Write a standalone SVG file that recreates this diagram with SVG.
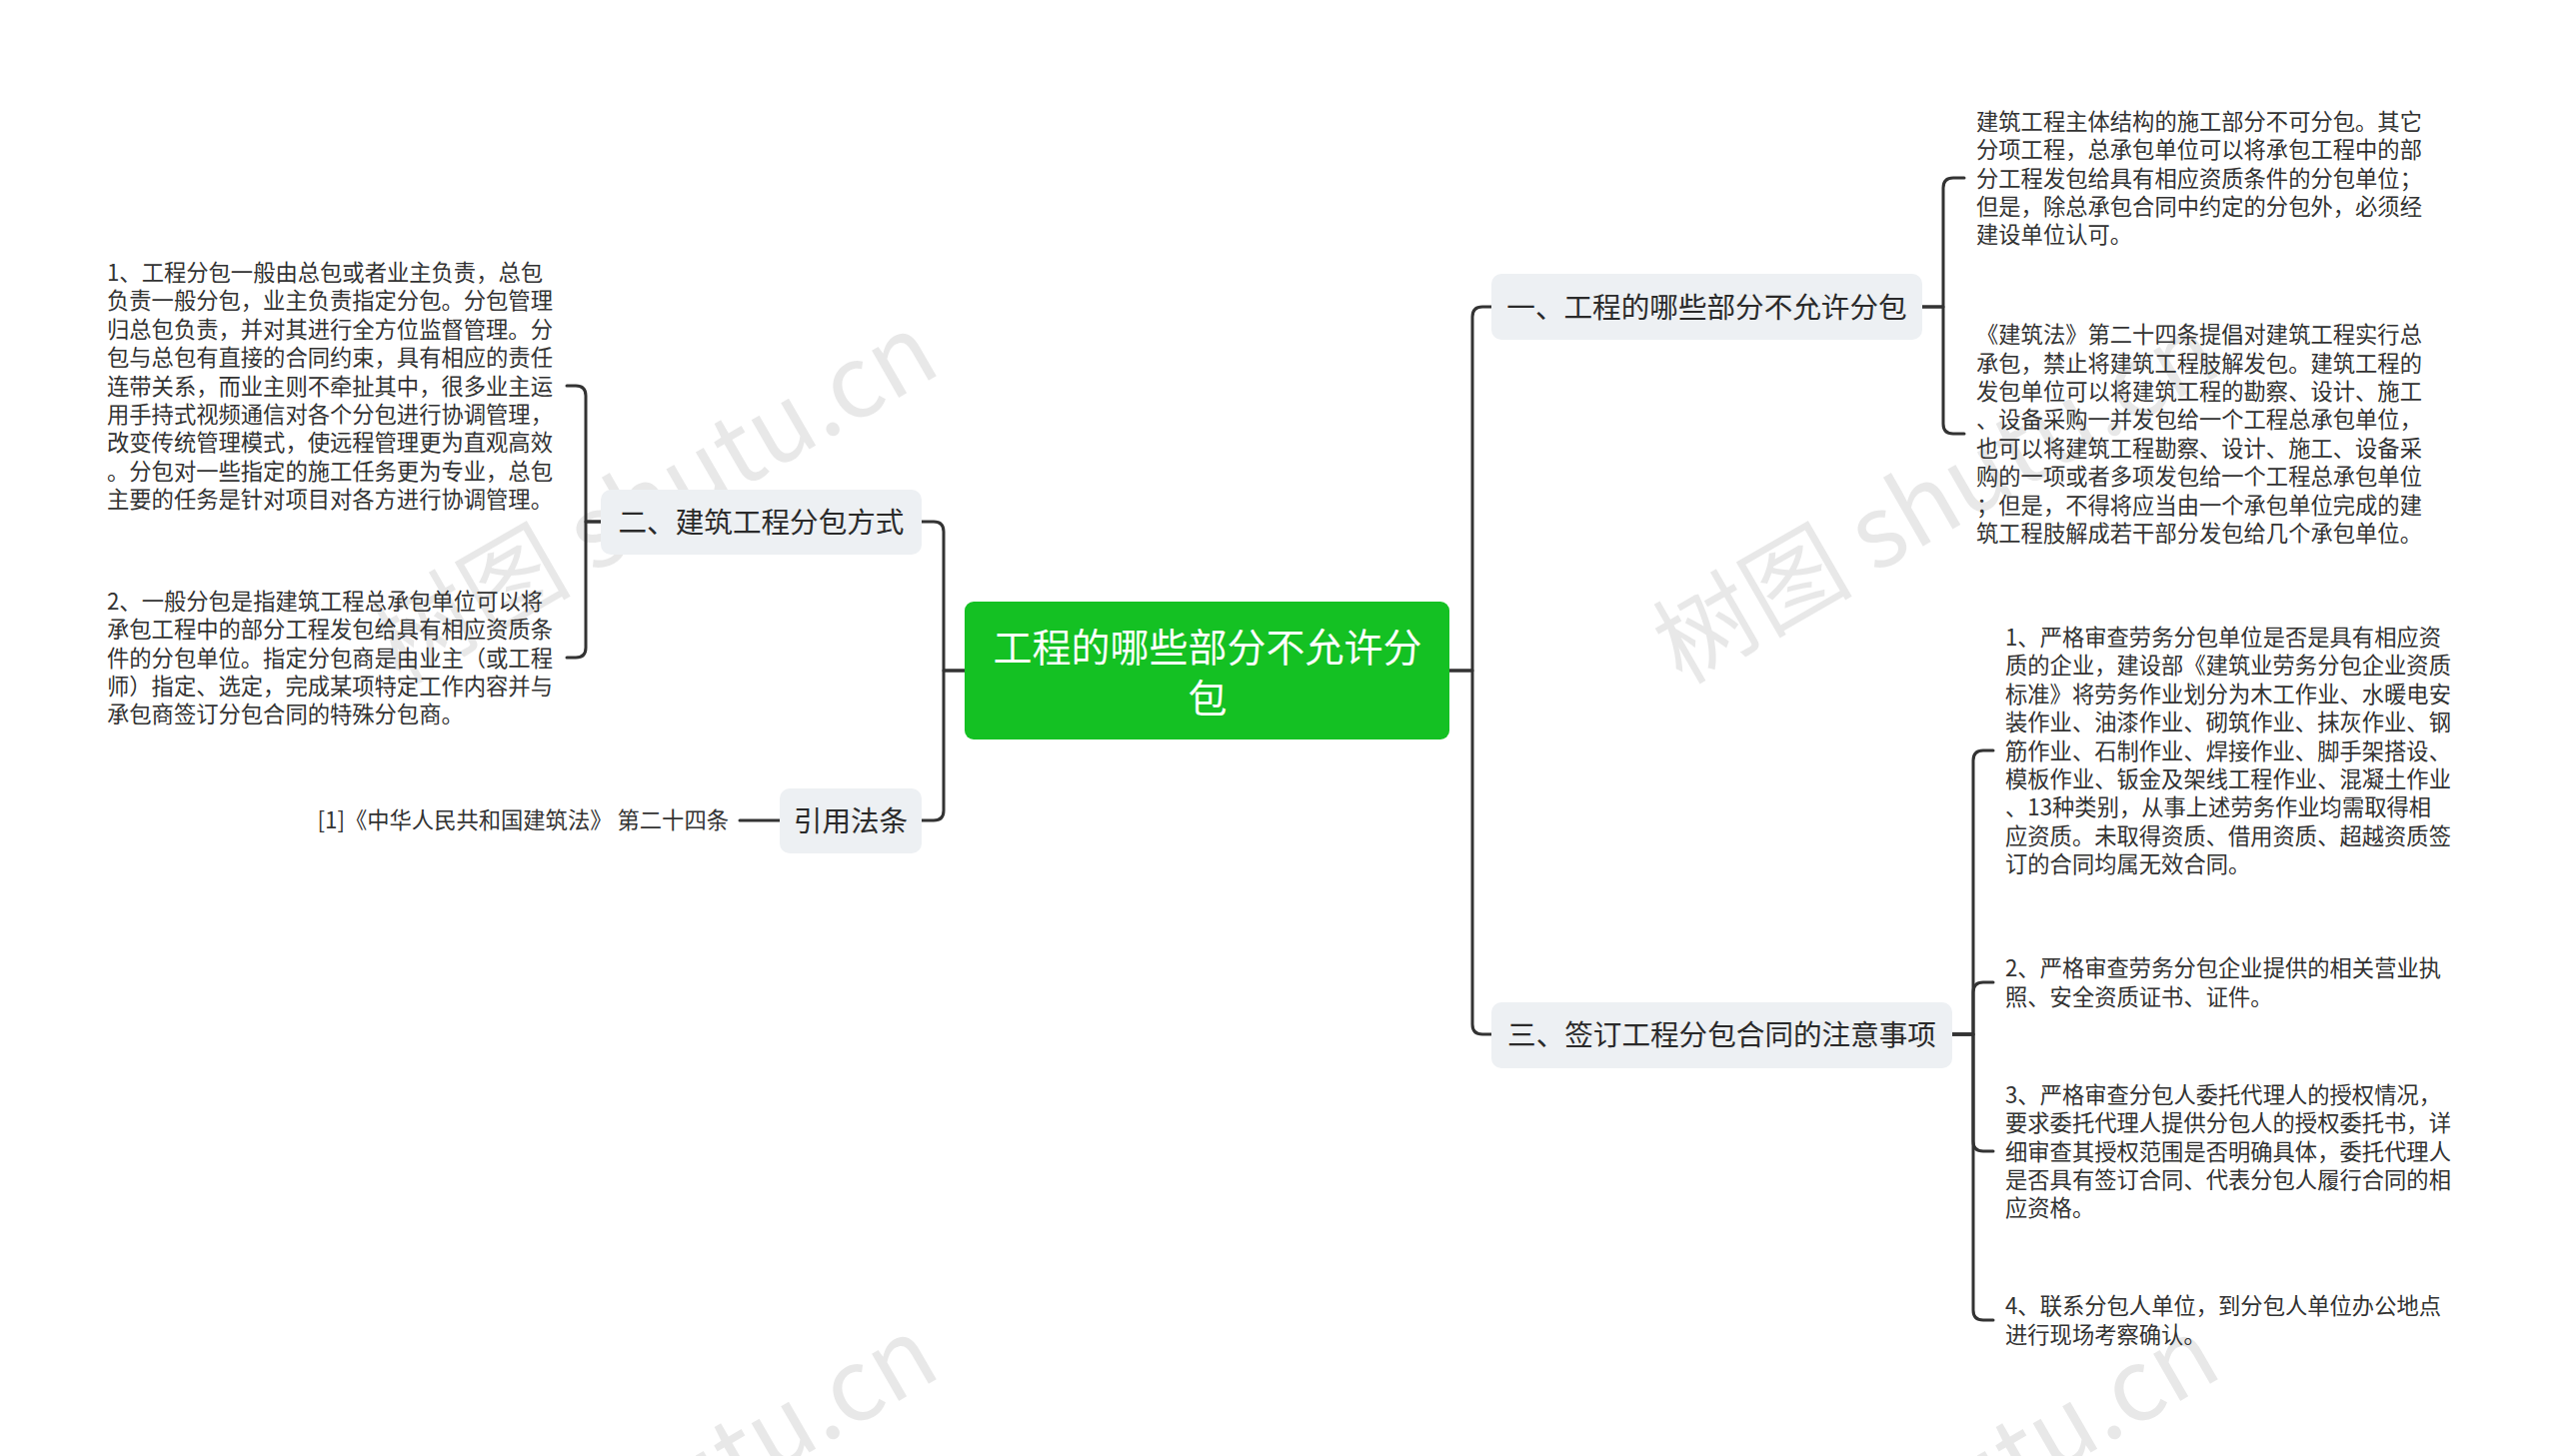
<svg xmlns="http://www.w3.org/2000/svg" width="2560" height="1457" viewBox="0 0 2560 1457">
<style>
.wm{font-family:"Noto Sans CJK SC","Liberation Sans",sans-serif;font-size:100px;fill:#000;fill-opacity:0.09;}
.t{font-family:"Noto Sans CJK SC","Liberation Sans",sans-serif;font-size:22.3px;fill:#333;dominant-baseline:central;}
.n{font-family:"Noto Sans CJK SC","Liberation Sans",sans-serif;font-size:28.6px;fill:#2a2a2a;dominant-baseline:central;text-anchor:middle;}
.nb{fill:#edf0f3;}
.c{fill:none;stroke:#333;stroke-width:3;stroke-linecap:round;stroke-linejoin:round;}
</style>
<rect width="2560" height="1457" fill="#ffffff"/>
<g id="watermarks">
<text class="wm" text-anchor="end" transform="translate(944 372) rotate(-30)">树图 shutu.cn</text>
<text class="wm" text-anchor="end" transform="translate(2226 372) rotate(-30)">树图 shutu.cn</text>
<text class="wm" text-anchor="end" transform="translate(944 1376) rotate(-30)">树图 shutu.cn</text>
<text class="wm" text-anchor="end" transform="translate(2226 1376) rotate(-30)">树图 shutu.cn</text>
</g>
<g id="connectors">
<path class="c" d="M965 671 H944 V532 Q944 522 934 522 H922"/>
<path class="c" d="M965 671 H944 V811 Q944 821 934 821 H922"/>
<path class="c" d="M1450 671 H1473 V317 Q1473 307 1483 307 H1492"/>
<path class="c" d="M1450 671 H1473 V1025 Q1473 1035 1483 1035 H1492"/>
<path class="c" d="M601 522 H586 V396 Q586 386 576 386 H567"/>
<path class="c" d="M601 522 H586 V648 Q586 658 576 658 H567"/>
<path class="c" d="M780 821 H740"/>
<path class="c" d="M1923 307 H1944 V188 Q1944 178 1954 178 H1965"/>
<path class="c" d="M1923 307 H1944 V424 Q1944 434 1954 434 H1965"/>
<path class="c" d="M1953 1035 H1974 V761 Q1974 751 1984 751 H1994"/>
<path class="c" d="M1953 1035 H1974 V993 Q1974 983 1984 983 H1994"/>
<path class="c" d="M1953 1035 H1974 V1142 Q1974 1152 1984 1152 H1994"/>
<path class="c" d="M1953 1035 H1974 V1311 Q1974 1321 1984 1321 H1994"/>
</g>
<g id="root">
<rect x="965" y="602" width="485" height="138" rx="9" fill="#14c123"/>
<text font-family="Noto Sans CJK SC, Liberation Sans, sans-serif" font-size="39" fill="#ffffff" text-anchor="middle" dominant-baseline="central"><tspan x="1208" y="645">工程的哪些部分不允许分</tspan><tspan x="1208" y="696">包</tspan></text>
</g>
<g id="node-fenbao">
<rect class="nb" x="601" y="490" width="321" height="65" rx="10"/>
<text class="n" x="761.5" y="520">二、建筑工程分包方式</text>
</g>
<g id="node-fatiao">
<rect class="nb" x="780" y="789" width="142" height="65" rx="10"/>
<text class="n" x="851" y="819">引用法条</text>
</g>
<g id="node-buyunxu">
<rect class="nb" x="1492" y="274" width="431" height="66" rx="10"/>
<text class="n" x="1707.5" y="305">一、工程的哪些部分不允许分包</text>
</g>
<g id="node-zhuyi">
<rect class="nb" x="1492" y="1003" width="461" height="66" rx="10"/>
<text class="n" x="1722.5" y="1033">三、签订工程分包合同的注意事项</text>
</g>
<g id="leaf-l1" transform="translate(0 -1.5)">
<text class="t"><tspan x="107" y="272.4">1、工程分包一般由总包或者业主负责，总包</tspan><tspan x="107" y="300.8">负责一般分包，业主负责指定分包。分包管理</tspan><tspan x="107" y="329.2">归总包负责，并对其进行全方位监督管理。分</tspan><tspan x="107" y="357.6">包与总包有直接的合同约束，具有相应的责任</tspan><tspan x="107" y="386">连带关系，而业主则不牵扯其中，很多业主运</tspan><tspan x="107" y="414.4">用手持式视频通信对各个分包进行协调管理，</tspan><tspan x="107" y="442.8">改变传统管理模式，使远程管理更为直观高效</tspan><tspan x="107" y="471.2">。分包对一些指定的施工任务更为专业，总包</tspan><tspan x="107" y="499.6">主要的任务是针对项目对各方进行协调管理。</tspan></text>
</g>
<g id="leaf-l2" transform="translate(0 -1.5)">
<text class="t"><tspan x="107" y="601.2">2、一般分包是指建筑工程总承包单位可以将</tspan><tspan x="107" y="629.6">承包工程中的部分工程发包给具有相应资质条</tspan><tspan x="107" y="658">件的分包单位。指定分包商是由业主（或工程</tspan><tspan x="107" y="686.4">师）指定、选定，完成某项特定工作内容并与</tspan><tspan x="107" y="714.8">承包商签订分包合同的特殊分包商。</tspan></text>
</g>
<g id="leaf-cite" transform="translate(0 -2)">
<text class="t" x="729" y="821" text-anchor="end">[1]《中华人民共和国建筑法》 第二十四条</text>
</g>
<g id="leaf-r1" transform="translate(0 -1.5)">
<text class="t"><tspan x="1977" y="121.2">建筑工程主体结构的施工部分不可分包。其它</tspan><tspan x="1977" y="149.6">分项工程，总承包单位可以将承包工程中的部</tspan><tspan x="1977" y="178">分工程发包给具有相应资质条件的分包单位；</tspan><tspan x="1977" y="206.4">但是，除总承包合同中约定的分包外，必须经</tspan><tspan x="1977" y="234.8">建设单位认可。</tspan></text>
</g>
<g id="leaf-r2" transform="translate(0 -1.5)">
<text class="t"><tspan x="1977" y="334.6">《建筑法》第二十四条提倡对建筑工程实行总</tspan><tspan x="1977" y="363">承包，禁止将建筑工程肢解发包。建筑工程的</tspan><tspan x="1977" y="391.4">发包单位可以将建筑工程的勘察、设计、施工</tspan><tspan x="1977" y="419.8">、设备采购一并发包给一个工程总承包单位，</tspan><tspan x="1977" y="448.2">也可以将建筑工程勘察、设计、施工、设备采</tspan><tspan x="1977" y="476.6">购的一项或者多项发包给一个工程总承包单位</tspan><tspan x="1977" y="505">；但是，不得将应当由一个承包单位完成的建</tspan><tspan x="1977" y="533.4">筑工程肢解成若干部分发包给几个承包单位。</tspan></text>
</g>
<g id="leaf-r3-1" transform="translate(0 -1.5)">
<text class="t"><tspan x="2006" y="637.4">1、严格审查劳务分包单位是否是具有相应资</tspan><tspan x="2006" y="665.8">质的企业，建设部《建筑业劳务分包企业资质</tspan><tspan x="2006" y="694.2">标准》将劳务作业划分为木工作业、水暖电安</tspan><tspan x="2006" y="722.6">装作业、油漆作业、砌筑作业、抹灰作业、钢</tspan><tspan x="2006" y="751">筋作业、石制作业、焊接作业、脚手架搭设、</tspan><tspan x="2006" y="779.4">模板作业、钣金及架线工程作业、混凝土作业</tspan><tspan x="2006" y="807.8">、13种类别，从事上述劳务作业均需取得相</tspan><tspan x="2006" y="836.2">应资质。未取得资质、借用资质、超越资质签</tspan><tspan x="2006" y="864.6">订的合同均属无效合同。</tspan></text>
</g>
<g id="leaf-r3-2" transform="translate(0 -1.5)">
<text class="t"><tspan x="2006" y="968.8">2、严格审查劳务分包企业提供的相关营业执</tspan><tspan x="2006" y="997.2">照、安全资质证书、证件。</tspan></text>
</g>
<g id="leaf-r3-3" transform="translate(0 -1.5)">
<text class="t"><tspan x="2006" y="1095.2">3、严格审查分包人委托代理人的授权情况，</tspan><tspan x="2006" y="1123.6">要求委托代理人提供分包人的授权委托书，详</tspan><tspan x="2006" y="1152">细审查其授权范围是否明确具体，委托代理人</tspan><tspan x="2006" y="1180.4">是否具有签订合同、代表分包人履行合同的相</tspan><tspan x="2006" y="1208.8">应资格。</tspan></text>
</g>
<g id="leaf-r3-4" transform="translate(0 -1.5)">
<text class="t"><tspan x="2006" y="1306.8">4、联系分包人单位，到分包人单位办公地点</tspan><tspan x="2006" y="1335.2">进行现场考察确认。</tspan></text>
</g>
</svg>
